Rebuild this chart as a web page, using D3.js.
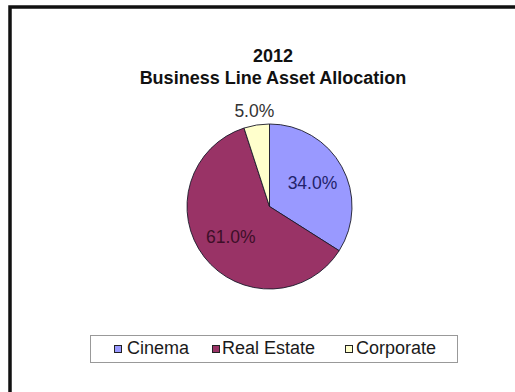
<!DOCTYPE html>
<html>
<head>
<meta charset="utf-8">
<script src="https://cdn.jsdelivr.net/npm/d3@7"></script>
<style>
  html, body { margin: 0; padding: 0; background: #fff; }
  svg { display: block; font-family: "Liberation Sans", Arial, sans-serif; }
</style>
</head>
<body>
<svg id="chart" width="515" height="392"></svg>
<script>
// Asset allocation by business line, 2012
const categories = ["Cinema", "Real Estate", "Corporate"];
const shares = [34.0, 61.0, 5.0];
const sliceColors = ["#9999FF", "#993366", "#FFFFCC"];
const labelColors = ["#22226a", "#3d0f28", "#333333"];
const titleLines = ["2012", "Business Line Asset Allocation"];

const svg = d3.select("#chart");
const W = 515, H = 392;

svg.append("rect").attr("width", W).attr("height", H).attr("fill", "#fff");

// chart frame (extends past right and bottom edges)
svg.append("rect")
  .attr("x", 10).attr("y", 7)
  .attr("width", W + 20).attr("height", H + 20)
  .attr("fill", "none").attr("stroke", "#111").attr("stroke-width", 3.5);

// title
svg.append("text")
  .attr("text-anchor", "middle")
  .attr("font-weight", "bold")
  .attr("font-size", 18)
  .attr("fill", "#111")
  .selectAll("tspan")
  .data(titleLines)
  .join("tspan")
  .attr("x", 273)
  .attr("y", (d, i) => 62 + i * 21.5)
  .text(d => d);

// pie
const cx = 269.5, cy = 206.5, R = 82.5;
const pie = d3.pie().sort(null).value(d => d.v);
const data = categories.map((c, i) => ({ c, v: shares[i], i }));
const arcs = pie(data);
const arc = d3.arc().innerRadius(0).outerRadius(R);
const inner = d3.arc().innerRadius(49).outerRadius(49);
const outer = d3.arc().innerRadius(97).outerRadius(97);

const g = svg.append("g").attr("transform", `translate(${cx},${cy})`);
g.selectAll("path.slice")
  .data(arcs)
  .join("path")
  .attr("class", "slice")
  .attr("d", arc)
  .attr("fill", d => sliceColors[d.data.i])
  .attr("stroke", "#1a1a2a")
  .attr("stroke-width", 0.9)
  .attr("stroke-linejoin", "round");

// value labels: small slices outside, large slices inside
g.selectAll("text.val")
  .data(arcs)
  .join("text")
  .attr("class", "val")
  .attr("transform", d => {
    const p = (d.data.v < 10 ? outer : inner).centroid(d);
    return `translate(${p[0]},${p[1]})`;
  })
  .attr("text-anchor", "middle")
  .attr("dominant-baseline", "central")
  .attr("font-size", 17.5)
  .attr("fill", d => labelColors[d.data.i])
  .text(d => d.data.v.toFixed(1) + "%");

// legend
const lg = svg.append("g");
lg.append("rect")
  .attr("x", 90.5).attr("y", 335.5)
  .attr("width", 367).attr("height", 27)
  .attr("fill", "#fff").attr("stroke", "#999").attr("stroke-width", 1);

const swatchX = [114, 212, 345];
const textX = [127, 222, 356];
const items = lg.selectAll("g.item")
  .data(categories)
  .join("g")
  .attr("class", "item");
items.append("rect")
  .attr("x", (d, i) => swatchX[i] + 0.5).attr("y", 345.5)
  .attr("width", 7).attr("height", 7)
  .attr("fill", (d, i) => sliceColors[i])
  .attr("stroke", "#222").attr("stroke-width", 1);
items.append("text")
  .attr("x", (d, i) => textX[i]).attr("y", 354)
  .attr("font-size", 18)
  .attr("fill", "#1a1a1a")
  .text(d => d);
</script>
</body>
</html>
